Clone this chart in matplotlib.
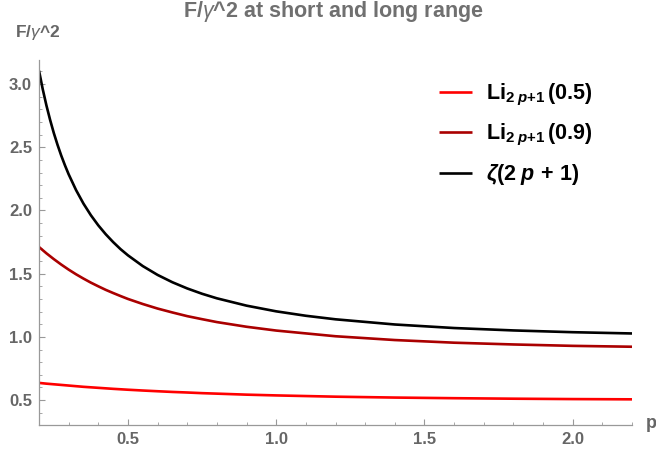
import matplotlib
matplotlib.use("Agg")
import matplotlib.pyplot as plt
from matplotlib.ticker import MultipleLocator

plt.rcParams['font.family'] = ['Liberation Sans', 'DejaVu Sans']
plt.rcParams['mathtext.fontset'] = 'custom'
plt.rcParams['mathtext.rm'] = 'Liberation Sans'
plt.rcParams['mathtext.it'] = 'Liberation Sans:italic'
plt.rcParams['mathtext.bf'] = 'Liberation Sans:bold'
plt.rcParams['mathtext.bfit'] = 'Liberation Sans:italic:bold'

# values
p_li = [0.2, 0.225, 0.25, 0.275, 0.3, 0.325, 0.35, 0.375, 0.4, 0.425, 0.45, 0.475,
        0.5, 0.55, 0.6, 0.65, 0.7, 0.75, 0.8, 0.9, 1.0, 1.2, 1.4, 1.6, 1.8, 2.0, 2.2]
li_05 = [0.636, 0.630, 0.625, 0.620, 0.615, 0.610, 0.605, 0.601, 0.597, 0.593, 0.589,
         0.5855, 0.582, 0.5757, 0.570, 0.5645, 0.560, 0.5549, 0.551, 0.543, 0.537,
         0.527, 0.520, 0.515, 0.511, 0.508, 0.506]
li_09 = [1.711, 1.661, 1.615, 1.572, 1.532, 1.495, 1.461, 1.429, 1.400, 1.372, 1.347,
         1.323, 1.300, 1.260, 1.224, 1.193, 1.164, 1.140, 1.117, 1.080, 1.050, 1.005,
         0.975, 0.954, 0.940, 0.929, 0.922]

p_zeta = [0.2, 0.2125, 0.225, 0.2375, 0.25, 0.2625, 0.275, 0.2875, 0.3, 0.325, 0.35,
          0.375, 0.4, 0.425, 0.45, 0.475, 0.5, 0.55, 0.6, 0.65, 0.7, 0.75, 0.8, 0.9,
          1.0, 1.1, 1.2, 1.4, 1.6, 1.8, 2.0, 2.2]
zeta = [3.106, 2.960, 2.831, 2.716, 2.612, 2.519, 2.434, 2.357, 2.286, 2.161, 2.054,
        1.962, 1.882, 1.812, 1.750, 1.694, 1.645, 1.560, 1.490, 1.432, 1.383, 1.341,
        1.305, 1.247, 1.202, 1.167, 1.139, 1.098, 1.070, 1.051, 1.037, 1.027]

labels = [r'$\mathbf{Li}_{\mathbf{2}\;\mathbfit{p}\mathbf{+1}}\,\mathbf{(0.5)}$',
          r'$\mathbf{Li}_{\mathbf{2}\;\mathbfit{p}\mathbf{+1}}\,\mathbf{(0.9)}$',
          r'$\mathbfit{\zeta}\mathbf{(2}\;\mathbfit{p}\mathbf{\,+\,1)}$']

gray = '#666666'
fig = plt.figure(figsize=(6.56, 4.54), dpi=100)
ax = fig.add_axes([39/656, 29/454, 593/656, 365/454])

kw = dict(lw=1.9, solid_joinstyle='round', solid_capstyle='butt')
ax.plot(p_li, li_05, color='#ff0000', label=labels[0], **kw)
ax.plot(p_li, li_09, color='#aa0000', label=labels[1], **kw)
ax.plot(p_zeta, zeta, color='black', label=labels[2], **kw)

ax.set_xlim(0.2, 2.2)
ax.set_ylim(0.303, 3.19)
ax.spines['top'].set_visible(False)
ax.spines['right'].set_visible(False)
for s in ['left', 'bottom']:
    ax.spines[s].set_color('#999999')
    ax.spines[s].set_linewidth(0.9)

ax.set_xticks([0.5, 1.0, 1.5, 2.0])
ax.set_yticks([0.5, 1.0, 1.5, 2.0, 2.5, 3.0])
ax.xaxis.set_minor_locator(MultipleLocator(0.1))
ax.yaxis.set_minor_locator(MultipleLocator(0.1))
ax.tick_params(which='both', direction='in', colors='#999999', labelcolor=gray,
               labelsize=12, pad=5)
ax.tick_params(which='major', length=4, width=0.8)
ax.tick_params(which='minor', length=2.5, width=0.6)
for t in ax.get_xticklabels() + ax.get_yticklabels():
    t.set_fontweight('bold')

fig.text(333/656, 1 - 12/454, r'F/$\gamma$^2 at short and long range', ha='center',
         va='center', fontsize=15.5, fontweight='bold', color='#707070')
fig.text(15/656, 1 - 33/454, r'F/$\gamma$^2', ha='left', va='center',
         fontsize=12.5, fontweight='bold', color=gray)
fig.text(646/656, 1 - 424/454, 'p', ha='left', va='center',
         fontsize=13, fontweight='bold', color=gray)

ax.legend(loc='upper left', bbox_to_anchor=(430/656, 1 - 73/454),
          bbox_transform=fig.transFigure, frameon=False, fontsize=15.5,
          borderaxespad=0, handlelength=1.55, handletextpad=0.65, labelspacing=0.66)

fig.savefig('out.png', dpi=100)
